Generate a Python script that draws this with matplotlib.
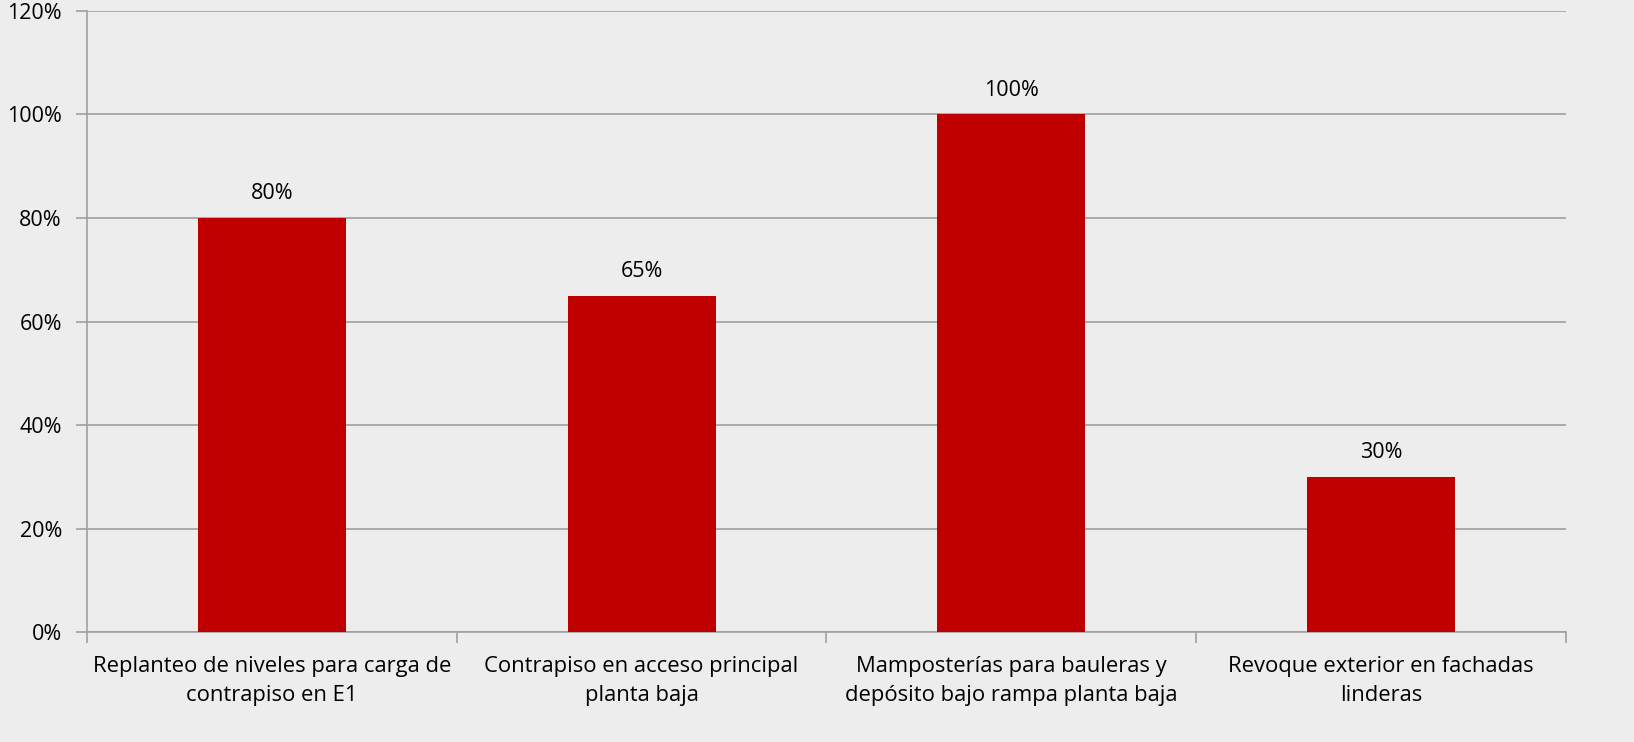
import matplotlib.pyplot as plt
from matplotlib.ticker import FixedLocator, PercentFormatter

tareas = [
    "Replanteo de niveles para carga de\ncontrapiso en E1",
    "Contrapiso en acceso principal\nplanta baja",
    "Mamposterías para bauleras y\ndepósito bajo rampa planta baja",
    "Revoque exterior en fachadas\nlinderas",
]
avance = [80, 65, 100, 30]
y_ticks = [0, 20, 40, 60, 80, 100, 120]

plt.rcParams["font.family"] = ["Open Sans", "DejaVu Sans"]
bg = "#EDEDED"
axis_gray = "#A0A0A0"

fig = plt.figure(figsize=(16.34, 7.42), dpi=100, facecolor=bg)
ax = fig.add_axes([0.0532, 0.1482, 0.9052, 0.837])
ax.set_facecolor(bg)

x = range(len(tareas))
bars = ax.bar(x, avance, width=0.40, color="#C00000", zorder=3)

for b, v in zip(bars, avance):
    ax.annotate(f"{v}%", (b.get_x() + b.get_width() / 2, v),
                xytext=(0, 10), textcoords="offset points",
                ha="center", va="bottom", fontsize=15.5, color="black")

ax.set_xlim(-0.5, len(tareas) - 0.5)
ax.set_ylim(0, 120)
ax.set_yticks(y_ticks)
ax.yaxis.set_major_formatter(PercentFormatter(decimals=0))
ax.grid(axis="y", color=axis_gray, linewidth=1.2, zorder=0)

ax.set_xticks(list(x))
ax.set_xticklabels(tareas, fontsize=15.8, linespacing=1.5)
ax.xaxis.set_minor_locator(FixedLocator([i - 0.5 for i in range(len(tareas) + 1)]))
ax.tick_params(axis="x", which="major", length=0, pad=17)
ax.tick_params(axis="x", which="minor", length=8, color=axis_gray, width=1.2)
ax.tick_params(axis="y", length=8, color=axis_gray, width=1.2, labelsize=15.5, pad=10)

for side in ["top", "right"]:
    ax.spines[side].set_visible(False)
for side in ["left", "bottom"]:
    ax.spines[side].set_color(axis_gray)
    ax.spines[side].set_linewidth(1.2)

fig.savefig("out.png", dpi=100, facecolor=bg)
